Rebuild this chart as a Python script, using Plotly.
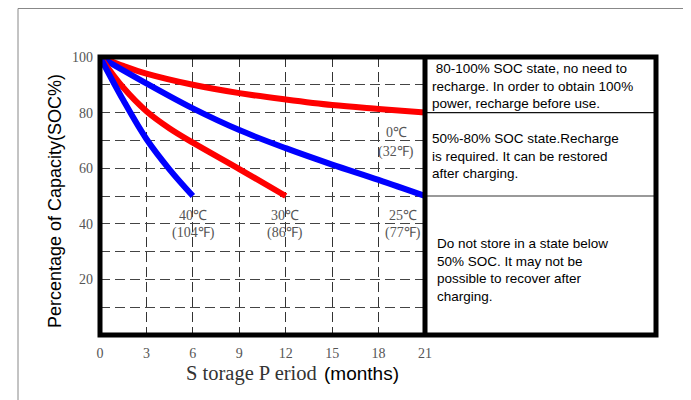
import plotly.graph_objects as go

# ---- data ----
months_0c = [0, 1.5, 3, 6, 9, 12, 15, 18, 21]
soc_0c = [100, 96.8, 94, 90, 87, 84.7, 82.7, 81.3, 80]

months_25c = [0, 3, 6, 9, 12, 15, 18, 21]
soc_25c = [100, 90.5, 81.5, 73.7, 67.2, 61.3, 55.8, 50]

months_30c = [0, 1.5, 3, 4.5, 6, 9, 12]
soc_30c = [100, 89, 80.5, 74.3, 69.2, 59.7, 50]

months_40c = [0, 1.5, 3, 4.5, 6]
soc_40c = [100, 84.5, 70.5, 59.5, 50]

x_ticks = [0, 3, 6, 9, 12, 15, 18, 21]
y_ticks = [0, 10, 20, 30, 40, 50, 60, 70, 80, 90, 100]
y_ticktext = ["", "", "20", "", "40", "", "60", "", "80", "", "100"]

temp_labels = [
    (396, 133, "0℃"), (396, 152, "(32℉)"),
    (193, 215, "40℃"), (193, 233, "(104℉)"),
    (285, 215, "30℃"), (285, 233, "(86℉)"),
    (403, 215, "25℃"), (403, 233, "(77℉)"),
]

box_texts = [
    (430, 59, " 80-100% SOC state, no need to<br>recharge. In order to obtain 100%<br>power, recharge before use."),
    (430, 129, "50%-80% SOC state.Recharge<br>is required. It can be restored<br>after charging."),
    (435, 234, "Do not store in a state below<br>50% SOC. It may not be<br>possible to recover after<br>charging."),
]

# ---- geometry (page pixels; the page body has an 8px margin) ----
OFF = 8
W, H = 691 - OFF, 400 - OFF
L, R, T, B = 100, 425, 57, 335
PW, PH = R - L, B - T


def px(x):
    return (x - L) / PW


def py(y):
    return (B - y) / PH


fig = go.Figure()
for xs, ys, col in [
    (months_0c, soc_0c, "#ff0000"),
    (months_25c, soc_25c, "#0000ff"),
    (months_30c, soc_30c, "#ff0000"),
    (months_40c, soc_40c, "#0000ff"),
]:
    fig.add_trace(go.Scatter(x=xs, y=ys, mode="lines",
                             line=dict(color=col, width=6, shape="spline"),
                             showlegend=False, hoverinfo="skip"))

serif = "Liberation Serif, Times New Roman, serif"
sans = "Liberation Sans, Arial, sans-serif"

fig.update_layout(
    width=W, height=H, autosize=False,
    margin=dict(l=L - OFF, r=691 - R, t=T - OFF, b=400 - B),
    paper_bgcolor="white", plot_bgcolor="white",
    xaxis=dict(range=[0, 21], tickvals=x_ticks, showgrid=True,
               gridcolor="#333", griddash="10px,5px", gridwidth=1.2,
               zeroline=False, showline=False, ticks="",
               ticklabelstandoff=8,
               tickfont=dict(family=serif, size=14, color="#555")),
    yaxis=dict(range=[0, 100], tickvals=y_ticks, ticktext=y_ticktext,
               showgrid=True, gridcolor="#444", griddash="10px,5px", gridwidth=1.2,
               zeroline=False, showline=False, ticks="",
               ticklabelstandoff=6,
               tickfont=dict(family=serif, size=14, color="#555")),
)

shapes = []
# outer thin frame
shapes.append(dict(type="rect", xref="paper", yref="paper",
                   x0=px(18), x1=px(687), y0=py(430), y1=py(8.5),
                   line=dict(color="#888", width=1), layer="below"))
# thin dividers in right box
shapes.append(dict(type="line", xref="paper", yref="y", x0=1, x1=px(656),
                   y0=80, y1=80, line=dict(color="#111", width=1.3)))
shapes.append(dict(type="line", xref="paper", yref="y", x0=1, x1=px(656),
                   y0=50, y1=50, line=dict(color="#777", width=1.3)))
# thick borders
shapes.append(dict(type="rect", xref="paper", yref="paper",
                   x0=0, x1=px(656), y0=0, y1=1,
                   line=dict(color="black", width=5)))
shapes.append(dict(type="line", xref="paper", yref="paper",
                   x0=1, x1=1, y0=0, y1=1,
                   line=dict(color="black", width=5)))
fig.update_layout(shapes=shapes)

ann = []
for x, y, t in temp_labels:
    ann.append(dict(xref="paper", yref="paper", x=px(x), y=py(y), text=t,
                    showarrow=False, xanchor="center", yanchor="middle",
                    font=dict(family=serif, size=14, color="#555")))
for x, y, t in box_texts:
    ann.append(dict(xref="paper", yref="paper", x=px(x), y=py(y), text=t,
                    showarrow=False, xanchor="left", yanchor="top", align="left",
                    font=dict(family=sans, size=13.5, color="black")))
# axis titles
ann.append(dict(xref="paper", yref="paper", x=px(55), y=py(201),
                text="Percentage of Capacity(SOC%)", textangle=-90,
                showarrow=False, xanchor="center", yanchor="middle",
                font=dict(family=sans, size=18, color="black")))
ann.append(dict(xref="paper", yref="paper", x=px(319), y=py(373),
                text="S torage P eriod", showarrow=False,
                xanchor="right", yanchor="middle",
                font=dict(family=serif, size=20.5, color="#333")))
ann.append(dict(xref="paper", yref="paper", x=px(322), y=py(373),
                text="(months)", showarrow=False,
                xanchor="left", yanchor="middle",
                font=dict(family=sans, size=19, color="black")))
fig.update_layout(annotations=ann)

fig.write_html("out.html")
